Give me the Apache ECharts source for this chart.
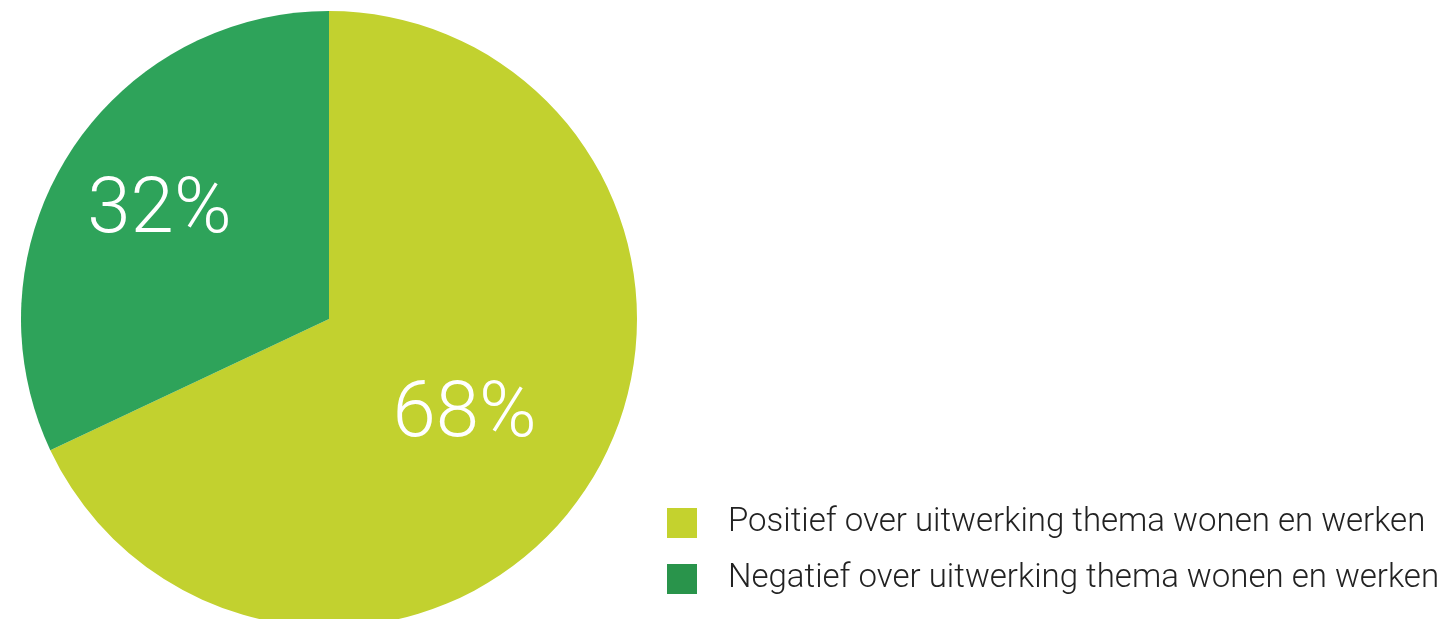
<!DOCTYPE html>
<html>
<head>
<meta charset="utf-8">
<script src="https://cdn.jsdelivr.net/npm/echarts@6/dist/echarts.min.js"></script>
<style>
  html, body { margin: 0; padding: 0; background: #fff; }
  #chart { width: 1450px; height: 619px; }
</style>
</head>
<body>
<div id="chart"></div>
<script>
// categorieën en percentages
const categories = [
  'Positief over uitwerking thema wonen en werken',
  'Negatief over uitwerking thema wonen en werken'
];
const values = [68, 32];
const colors = ['#c2d12f', '#2ea35a'];
// legenda blokjes iets donkerder groen
const legendColors = ['#c4d22e', '#29944b'];
// label verschuiving per segment (alleen opmaak)
const labelOffsets = [[3, 13], [-37, -22]];

const chart = echarts.init(document.getElementById('chart'));

chart.setOption({
  animation: false,
  color: colors,
  legend: {
    orient: 'vertical',
    left: 667,
    top: 504,
    padding: 0,
    itemWidth: 30,
    itemHeight: 30,
    itemGap: 18,
    icon: 'rect',
    data: categories.map((name, i) => ({
      name: name,
      itemStyle: { color: legendColors[i] }
    })),
    textStyle: {
      fontFamily: 'Roboto',
      fontWeight: 300,
      fontSize: 33,
      lineHeight: 30,
      color: '#222',
      padding: [8, 0, 0, 26]
    }
  },
  series: [
    {
      type: 'pie',
      center: [329, 319],
      radius: 308,
      startAngle: 90,
      clockwise: true,
      silent: true,
      label: {
        show: true,
        position: 'inside',
        formatter: '{c}%',
        color: '#fff',
        fontFamily: 'Roboto',
        fontWeight: 300,
        fontSize: 78
      },
      labelLine: { show: false },
      data: categories.map((name, i) => ({
        name: name,
        value: values[i],
        label: { offset: labelOffsets[i] }
      }))
    }
  ]
});

window.addEventListener('resize', function () {
  chart.resize();
});
</script>
</body>
</html>
